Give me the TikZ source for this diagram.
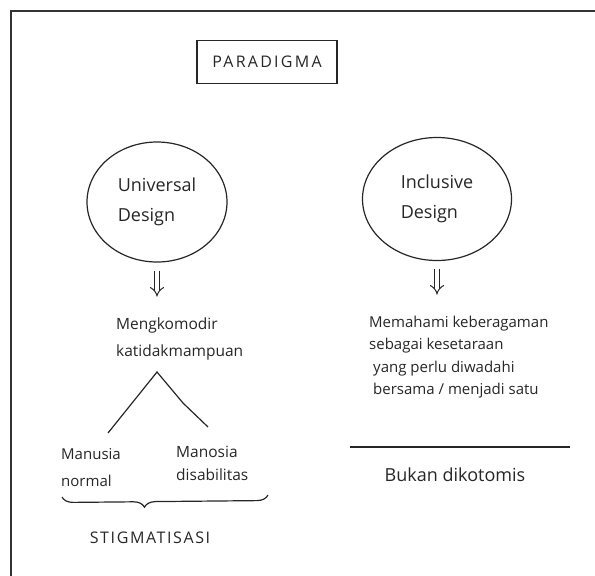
\documentclass[tikz,border=0pt]{standalone}
\usepackage{fontspec}
\setmainfont{Open Sans}
\usetikzlibrary{shapes.geometric,arrows.meta,decorations.pathreplacing}
\begin{document}
\begin{tikzpicture}[x=1pt,y=-1pt,
  ink/.style={draw=black!85,line width=1.2pt},
  hand/.style={font=\fontsize{15}{25}\selectfont,text=black!85,align=left,inner sep=1pt},
  blob/.style={ink,ellipse,inner sep=0pt,hand,font=\fontsize{18}{30}\selectfont},
  twin/.style={draw=black!85,line width=1pt,double=white,double distance=4pt,-{Implies[length=7pt,width=16pt]}}]
\useasboundingbox (0,0) rectangle (595,576);
\draw[line width=2.4pt,black!80] (11,576) -- (11,11) -- (595,11);
\node[ink,hand,minimum width=140,minimum height=43,
  font=\fontsize{16}{20}\selectfont\addfontfeatures{LetterSpace=14}] (title) at (267,62) {PARADIGMA};
% the two paradigms
\node[blob,minimum width=140,minimum height=120] (ud) at (157,202) {Universal\\Design};
\node[blob,minimum width=149,minimum height=123] (id) at (437,199) {Inclusive\\Design};
% left side
\node[hand,anchor=west,font=\fontsize{15.5}{27}\selectfont] (mk) at (115,339) {Mengkomodir\\katidakmampuan};
\draw[twin,shorten <=8pt,shorten >=20pt] (ud.south) -- (ud.south |- mk.north);
\coordinate (peak) at (157,372);
\coordinate (legL) at (108,433);
\coordinate (kink) at (183,403);
\coordinate (legR) at (208,427);
\draw[ink] (legL) -- (peak) -- (kink) -- (legR);
\node[hand,anchor=west,font=\fontsize{15}{27}\selectfont] (mn) at (60,468) {Manusia\\normal};
\node[hand,anchor=west,font=\fontsize{15.5}{23}\selectfont] (md) at (175,463) {Manosia\\disabilitas};
\coordinate (brL) at (62,497);
\coordinate (brR) at (268,495);
\draw[ink,decorate,decoration={brace,mirror,amplitude=11pt,aspect=0.4}] (brL) -- (brR);
\node[hand,font=\fontsize{16}{20}\selectfont\addfontfeatures{LetterSpace=10}] (stig) at (150,538) {STIGMATISASI};
% right side
\node[hand,anchor=west,font=\fontsize{15}{22.5}\selectfont] (mb) at (368,357) {Memahami keberagaman\\sebagai kesetaraan\\\hspace{4pt}yang perlu diwadahi\\\hspace{4pt}bersama / menjadi satu};
\draw[twin,shorten <=8pt,shorten >=20pt] (id.south) -- (id.south |- mb.north);
\coordinate (rulL) at (350,447);
\coordinate (rulR) at (570,447);
\draw[ink] (rulL) -- (rulR);
\node[hand,font=\fontsize{18}{22}\selectfont] (bd) at (455,475) {Bukan dikotomis};
\end{tikzpicture}
\end{document}
